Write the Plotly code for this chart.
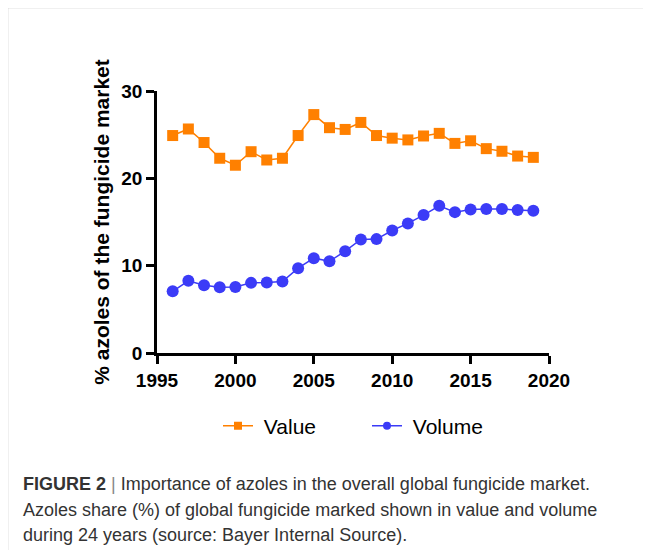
import plotly.graph_objects as go

years = list(range(1996, 2020))
value_share = [24.9, 25.65, 24.1, 22.3, 21.5, 23.05, 22.1, 22.3, 24.9, 27.3, 25.8, 25.6,
               26.4, 24.9, 24.6, 24.4, 24.85, 25.15, 24.0, 24.3, 23.4, 23.1, 22.55, 22.4]
volume_share = [7.07, 8.26, 7.76, 7.53, 7.57, 8.03, 8.07, 8.19, 9.71, 10.86, 10.5, 11.66,
                13.0, 13.04, 14.03, 14.84, 15.79, 16.86, 16.13, 16.44, 16.48, 16.48, 16.37, 16.29]
x_ticks = [1995, 2000, 2005, 2010, 2015, 2020]
y_ticks = [0, 10, 20, 30]

ORANGE = "#FF8000"
BLUE = "#3B3BF7"

# page body has an 8px margin, so the figure is drawn 8px smaller and offset
OFF = 8
W, H = 651 - OFF, 550 - OFF
L, R, T, B = 157 - OFF, 549 - OFF, 91 - OFF, 353 - OFF  # plot area in figure pixels


def px(x):
    return (x - OFF - L) / (R - L)


def py(y):
    return (B - (y - OFF)) / (B - T)


fig = go.Figure()
fig.add_trace(go.Scatter(
    x=years, y=value_share, name="Value", mode="lines+markers",
    line=dict(color=ORANGE, width=1.5),
    marker=dict(symbol="square", size=11, color=ORANGE),
    cliponaxis=False, showlegend=False,
))
fig.add_trace(go.Scatter(
    x=years, y=volume_share, name="Volume", mode="lines+markers",
    line=dict(color=BLUE, width=1.5),
    marker=dict(symbol="circle", size=12, color=BLUE),
    cliponaxis=False, showlegend=False,
))
# legend entries with smaller symbols (nbsp adds the gap before the text)
fig.add_trace(go.Scatter(
    x=[None], y=[None], name="\u00a0Value", mode="lines+markers",
    line=dict(color=ORANGE, width=1.5),
    marker=dict(symbol="square", size=8, color=ORANGE),
))
fig.add_trace(go.Scatter(
    x=[None], y=[None], name="\u00a0Volume", mode="lines+markers",
    line=dict(color=BLUE, width=1.5),
    marker=dict(symbol="circle", size=8, color=BLUE),
))

axis_common = dict(
    showline=True, linecolor="black", linewidth=2.5,
    ticks="outside", ticklen=8, tickwidth=2.5, tickcolor="black",
    showgrid=False, zeroline=False,
    tickfont=dict(family="Arial", size=19, color="black", weight="bold"),
)

fig.update_xaxes(range=[1995, 2020], tickvals=x_ticks, **axis_common)
fig.update_yaxes(
    range=[0, 30], tickvals=y_ticks,
    title=dict(text="% azoles of the fungicide market",
               font=dict(family="Arial", size=21, color="black", weight="bold"),
               standoff=6),
    **axis_common,
)

# frame lines of the figure panel
fig.add_shape(type="line", xref="paper", yref="paper",
              x0=px(7.5), x1=px(651), y0=py(7.5), y1=py(7.5),
              line=dict(color="#c4c4c4", width=1.5))
fig.add_shape(type="line", xref="paper", yref="paper",
              x0=px(7.5), x1=px(7.5), y0=py(7.5), y1=py(550),
              line=dict(color="#c4c4c4", width=1.5))

caption = [
    "<b>FIGURE 2</b> <span style='color:#888'>|</span> Importance of azoles in the overall global fungicide market.",
    "Azoles share (%) of global fungicide marked shown in value and volume",
    "during 24 years (source: Bayer Internal Source).",
]
for i, line in enumerate(caption):
    fig.add_annotation(
        text=line, xref="paper", yref="paper", x=px(21), y=py(484 + i * 25.5),
        xanchor="left", yanchor="middle", showarrow=False,
        font=dict(family="Arial", size=18, color="#333333"),
    )

fig.update_layout(
    width=W, height=H,
    margin=dict(l=L, r=W - R, t=T, b=H - B),
    paper_bgcolor="white", plot_bgcolor="white",
    showlegend=True,
    legend=dict(
        orientation="h", x=px(218), y=py(426), xanchor="left", yanchor="middle",
        font=dict(family="Arial", size=21, color="black"),
        itemwidth=30, entrywidth=104,
    ),
)

fig.write_html("out.html")
